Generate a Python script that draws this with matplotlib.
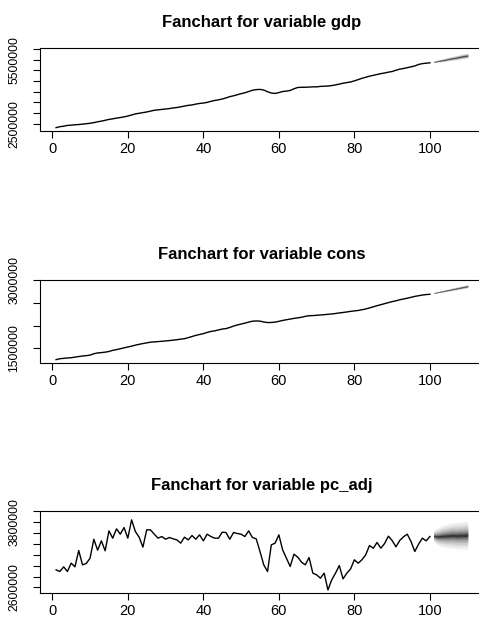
import numpy as np
import matplotlib.pyplot as plt
from matplotlib.ticker import MultipleLocator, FuncFormatter
from statistics import NormalDist

plt.rcParams['font.family'] = ['Liberation Sans', 'DejaVu Sans']

# observed series (millions), t = 1..100
gdp = [2.315, 2.36, 2.38, 2.42, 2.43, 2.45, 2.46, 2.48, 2.50, 2.52,
       2.55, 2.59, 2.62, 2.66, 2.70, 2.73, 2.76, 2.79, 2.82, 2.86,
       2.91, 2.96, 2.99, 3.02, 3.05, 3.09, 3.13, 3.15, 3.17, 3.19,
       3.21, 3.24, 3.26, 3.29, 3.33, 3.36, 3.38, 3.42, 3.45, 3.47,
       3.50, 3.55, 3.59, 3.62, 3.66, 3.71, 3.77, 3.81, 3.86, 3.91,
       3.95, 4.01, 4.07, 4.10, 4.11, 4.08, 4.00, 3.94, 3.92, 3.96,
       4.01, 4.03, 4.06, 4.14, 4.20, 4.21, 4.21, 4.22, 4.23, 4.23,
       4.25, 4.26, 4.27, 4.29, 4.32, 4.36, 4.40, 4.43, 4.46, 4.51,
       4.57, 4.63, 4.68, 4.73, 4.77, 4.81, 4.85, 4.88, 4.92, 4.95,
       5.01, 5.06, 5.09, 5.13, 5.17, 5.21, 5.28, 5.32, 5.34, 5.36]

cons = [1.250, 1.270, 1.278, 1.287, 1.292, 1.305, 1.318, 1.330, 1.338, 1.350,
        1.380, 1.398, 1.405, 1.415, 1.430, 1.455, 1.471, 1.490, 1.510, 1.529,
        1.548, 1.570, 1.588, 1.605, 1.620, 1.635, 1.642, 1.648, 1.655, 1.662,
        1.670, 1.680, 1.690, 1.702, 1.712, 1.735, 1.760, 1.785, 1.805, 1.824,
        1.850, 1.872, 1.885, 1.905, 1.925, 1.935, 1.960, 1.990, 2.015, 2.035,
        2.055, 2.078, 2.098, 2.103, 2.100, 2.080, 2.068, 2.070, 2.078, 2.095,
        2.115, 2.130, 2.145, 2.160, 2.172, 2.185, 2.205, 2.218, 2.222, 2.228,
        2.235, 2.242, 2.250, 2.258, 2.268, 2.280, 2.290, 2.302, 2.315, 2.325,
        2.335, 2.350, 2.368, 2.390, 2.415, 2.440, 2.462, 2.485, 2.508, 2.530,
        2.548, 2.570, 2.588, 2.605, 2.625, 2.645, 2.660, 2.675, 2.685, 2.692]

pc_adj = [2.922, 2.892, 2.977, 2.892, 3.044, 2.977, 3.275, 3.013, 3.038, 3.135,
          3.481, 3.281, 3.451, 3.269, 3.633, 3.500, 3.670, 3.573, 3.694, 3.500,
          3.834, 3.621, 3.518, 3.336, 3.652, 3.652, 3.573, 3.500, 3.530, 3.481,
          3.512, 3.488, 3.469, 3.409, 3.518, 3.469, 3.548, 3.481, 3.560, 3.451,
          3.573, 3.530, 3.500, 3.500, 3.609, 3.603, 3.481, 3.603, 3.585, 3.573,
          3.530, 3.633, 3.512, 3.488, 3.257, 3.013, 2.892, 3.378, 3.409, 3.560,
          3.287, 3.135, 2.983, 3.208, 3.153, 3.062, 3.013, 3.147, 2.861, 2.831,
          2.770, 2.861, 2.555, 2.740, 2.861, 3.001, 2.758, 2.861, 2.940, 3.105,
          3.044, 3.105, 3.196, 3.366, 3.317, 3.421, 3.317, 3.402, 3.536, 3.457,
          3.342, 3.457, 3.524, 3.573, 3.439, 3.257, 3.390, 3.500, 3.451, 3.530]

# 10-step forecasts (millions) and their standard errors
gdp_fc = [5.40, 5.44, 5.47, 5.50, 5.54, 5.57, 5.60, 5.64, 5.67, 5.70]
gdp_se = [0.032, 0.045, 0.055, 0.064, 0.071, 0.078, 0.084, 0.090, 0.095, 0.100]
cons_fc = [2.72, 2.737, 2.753, 2.77, 2.787, 2.803, 2.82, 2.837, 2.853, 2.87]
cons_se = [0.010, 0.014, 0.017, 0.020, 0.022, 0.024, 0.026, 0.028, 0.030, 0.032]
pc_fc = [3.54, 3.53, 3.535, 3.54, 3.545, 3.55, 3.545, 3.55, 3.55, 3.555]
pc_se = [0.085, 0.12, 0.145, 0.16, 0.172, 0.181, 0.188, 0.193, 0.197, 0.20]

cis = [0.1, 0.2, 0.3, 0.4, 0.5, 0.6, 0.7, 0.8, 0.9]
fan_grays = np.sqrt(np.linspace(0.05, 1, len(cis)))

t = np.arange(1, len(gdp) + 1)
t_fc = np.arange(len(gdp) + 1, len(gdp) + len(gdp_fc) + 1)

panels = [
    ("gdp", gdp, gdp_fc, gdp_se, 500000, [2500000, 5500000]),
    ("cons", cons, cons_fc, cons_se, 500000, [1500000, 3000000]),
    ("pc_adj", pc_adj, pc_fc, pc_se, 200000, [2600000, 3800000]),
]

fig = plt.figure(figsize=(4.79, 6.25), dpi=100)
bottoms = [0.7909, 0.4197, 0.0512]
z95 = NormalDist().inv_cdf(0.975)

for (name, y, fc, se, step, shown), b in zip(panels, bottoms):
    ax = fig.add_axes([0.0827, b, 0.928, 0.1318])
    y = np.array(y) * 1e6
    fc = np.array(fc) * 1e6
    se = np.array(se) * 1e6

    # fan: widest interval first, darker shades towards the centre
    for ci, g in reversed(list(zip(cis, fan_grays))):
        z = NormalDist().inv_cdf((1 + ci) / 2)
        ax.fill_between(t_fc, fc - z * se, fc + z * se,
                        color=str(g), linewidth=0)
    ax.plot(t, y, color="black", linewidth=1.0)

    # y range covers the data and the 95% forecast interval
    lo = min(y.min(), (fc - z95 * se).min())
    hi = max(y.max(), (fc + z95 * se).max())
    r = hi - lo
    ax.set_ylim(lo - 0.04 * r, hi + 0.04 * r)
    span = t_fc[-1] - t[0]
    ax.set_xlim(t[0] - 0.04 * span, t_fc[-1] + 0.04 * span)

    ax.xaxis.set_major_locator(MultipleLocator(20))
    ax.yaxis.set_major_locator(MultipleLocator(step))
    ax.yaxis.set_major_formatter(FuncFormatter(
        lambda v, p, shown=shown: f"{v:.0f}" if round(v) in shown else ""))
    ax.tick_params(axis="x", length=5, width=0.8, pad=3, labelsize=10.5)
    ax.tick_params(axis="y", length=5, width=0.8, pad=9, labelsize=8.8,
                   labelrotation=90)
    for lab in ax.get_yticklabels():
        lab.set_va("center")
    for s in ax.spines.values():
        s.set_linewidth(0.8)

    ax.set_title(f"Fanchart for variable {name}", fontsize=12,
                 fontweight="bold", pad=15)

fig.savefig("out.png", dpi=100)
